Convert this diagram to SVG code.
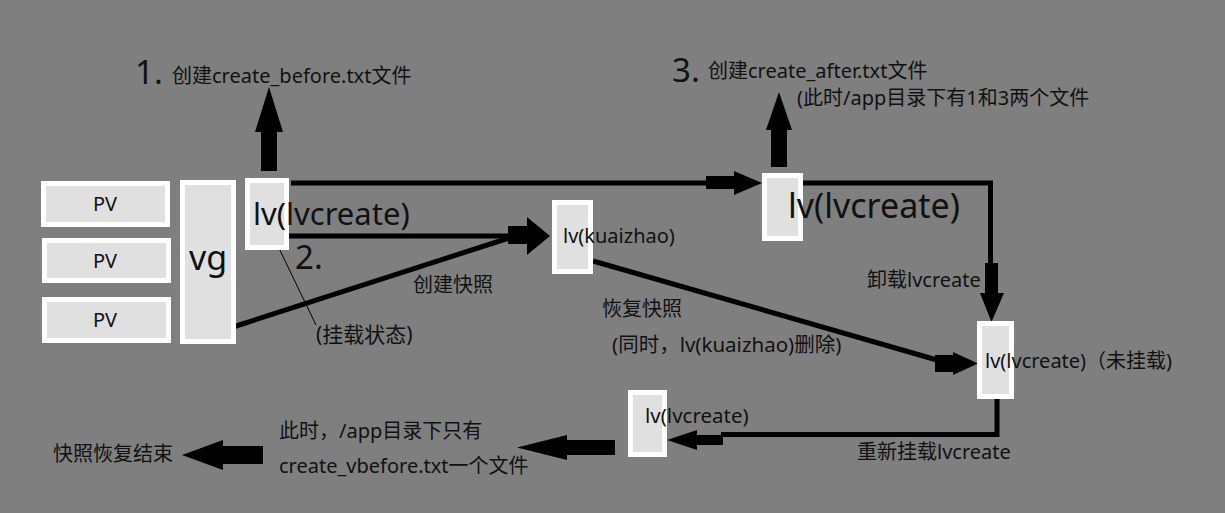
<svg xmlns="http://www.w3.org/2000/svg" width="1225" height="513" viewBox="0 0 1225 513">
<style>
.box{fill:#e0e0e0;stroke:#ffffff;stroke-width:5}
.t{font-family:"Noto Sans","Noto Sans CJK SC",sans-serif;fill:#111;font-size:20px}
.ln{fill:none;stroke:#000;stroke-width:5}
.ar{fill:#000}
</style>
<rect x="0" y="0" width="1225" height="513" fill="#7f7f7f"/>
<g id="connectors">
  <polyline class="ln" points="291,183 708,183"/>
  <polygon class="ar" points="706,176 734,176 734,171 762,183 734,195 734,189 706,189"/>
  <polyline class="ln" points="801,183 990.5,183 990.5,265"/>
  <polygon class="ar" points="985,263 998,263 998,293 1004,293 991.5,322 980,293 985,293"/>
  <polyline class="ln" points="287,236 509,236"/>
  <polyline class="ln" points="233,327 509,238"/>
  <polygon class="ar" points="508,226 527,226 527,217 550,236 527,255 527,244 508,244"/>
  <polyline class="ln" points="593,261 937,360"/>
  <polygon class="ar" points="935,355 953,355 953,352 978,363.5 953,375 953,372 935,372"/>
  <polyline class="ln" points="997,398 997,434.5 721,434.5"/>
  <polygon class="ar" points="723,435 697,435 697,430 667,440 697,450 697,445 723,445"/>
  <polygon class="ar" points="615,440 567,440 567,435 517,447.5 567,460 567,455 615,455"/>
  <polygon class="ar" points="263,446 223,446 223,440 182,455 223,470 223,464 263,464"/>
  <polygon class="ar" points="261,171 261,132 255,132 269,87 283,132 277,132 277,171"/>
  <polygon class="ar" points="771,167 771,130 766,130 779,92 792,130 787,130 787,167"/>
  <line x1="275" y1="240" x2="316" y2="325" stroke="#000" stroke-width="1"/>
</g>
<g id="pv1"><rect class="box" x="43.5" y="183.5" width="124" height="41"/><text class="t" x="105" y="211" text-anchor="middle">PV</text></g>
<g id="pv2"><rect class="box" x="44.5" y="240.5" width="124" height="40"/><text class="t" x="105" y="268" text-anchor="middle">PV</text></g>
<g id="pv3"><rect class="box" x="44.5" y="299.5" width="124" height="41"/><text class="t" x="105" y="327" text-anchor="middle">PV</text></g>
<g id="vg"><rect class="box" x="182.5" y="182.5" width="51" height="159"/><text class="t" x="208" y="270" text-anchor="middle" style="font-size:34px">vg</text></g>
<g id="lv1"><rect class="box" x="247.5" y="180.5" width="39" height="67"/><text class="t" x="253" y="225" style="font-size:31px">lv(lvcreate)</text></g>
<g id="lvsnap"><rect class="box" x="554.5" y="202.5" width="36" height="69"/><text class="t" x="563" y="243">lv(kuaizhao)</text></g>
<g id="lv3"><rect class="box" x="764.5" y="175.5" width="36" height="63"/><text class="t" x="788" y="218" style="font-size:34px">lv(lvcreate)</text></g>
<g id="lv4"><rect class="box" x="979.5" y="323.5" width="32" height="73"/><text class="t" x="985" y="368">lv(lvcreate)（未挂载)</text></g>
<g id="lv5"><rect class="box" x="630.5" y="392.5" width="34" height="62"/><text class="t" x="645" y="423" style="font-size:20.5px">lv(lvcreate)</text></g>
<g id="labels">
  <text class="t" x="135" y="84" style="font-size:33px">1.</text>
  <text class="t" x="172" y="83">创建create_before.txt文件</text>
  <text class="t" x="672" y="82" style="font-size:33px">3.</text>
  <text class="t" x="708" y="78">创建create_after.txt文件</text>
  <text class="t" x="797" y="105">(此时/app目录下有1和3两个文件</text>
  <text class="t" x="295" y="269" style="font-size:33px">2.</text>
  <text class="t" x="316" y="342" style="font-size:21px">(挂载状态)</text>
  <text class="t" x="413" y="292">创建快照</text>
  <text class="t" x="867" y="287">卸载lvcreate</text>
  <text class="t" x="602" y="316">恢复快照</text>
  <text class="t" x="612" y="352" style="font-size:20.5px">(同时，lv(kuaizhao)删除)</text>
  <text class="t" x="857" y="459">重新挂载lvcreate</text>
  <text class="t" x="279" y="438">此时，/app目录下只有</text>
  <text class="t" x="279" y="473">create_vbefore.txt一个文件</text>
  <text class="t" x="53" y="461">快照恢复结束</text>
</g>
</svg>
